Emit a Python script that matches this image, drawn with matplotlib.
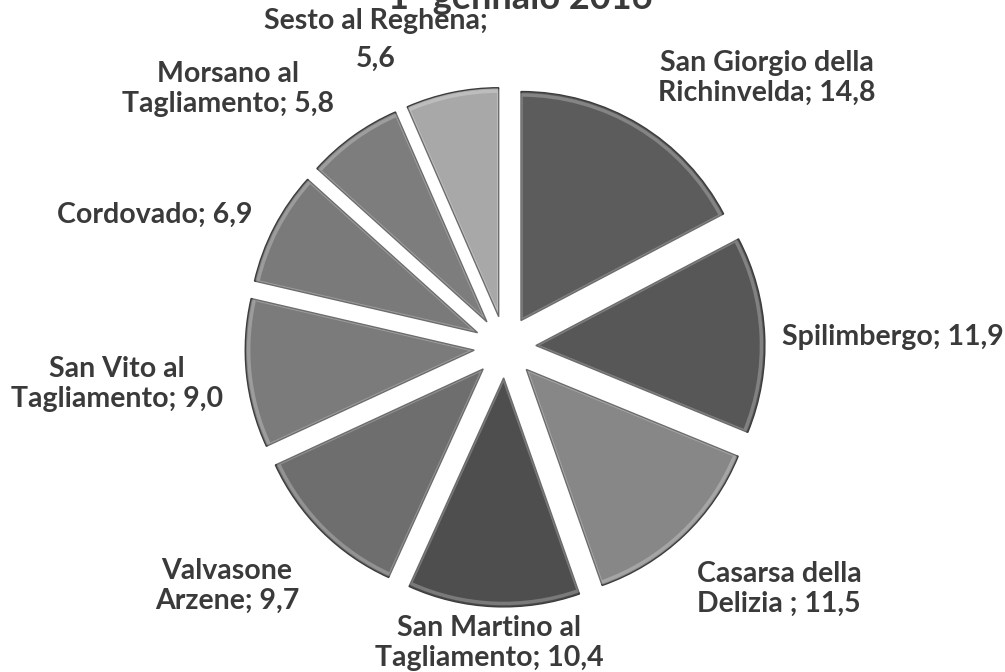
import matplotlib
matplotlib.use("Agg")
import matplotlib.pyplot as plt
from matplotlib.patches import Wedge

# data
comuni = ["San Giorgio della\nRichinvelda", "Spilimbergo", "Casarsa della\nDelizia ",
          "San Martino al\nTagliamento", "Valvasone\nArzene", "San Vito al\nTagliamento",
          "Cordovado", "Morsano al\nTagliamento", "Sesto al Reghena"]
valori = [14.8, 11.9, 11.5, 10.4, 9.7, 9.0, 6.9, 5.8, 5.6]
grigi = ["#5c5c5c", "#575757", "#878787", "#4e4e4e", "#6e6e6e",
         "#7b7b7b", "#7a7a7a", "#7d7d7d", "#a8a8a8"]
titolo = "1° gennaio 2016"

# label positions in pixels (center of text block)
pos_label = [(767, 78), (893, 337), (779, 589), (489, 643), (227, 586),
             (117, 384), (155, 215), (228, 89), (376, 40)]

W, H = 1005, 672
cx, cy, R = 505, 347, 229

fig = plt.figure(figsize=(W / 100, H / 100), dpi=100)
ax = fig.add_axes([0, 0, 1, 1])

wedges, _ = ax.pie(valori, startangle=90, counterclock=False, colors=grigi,
                   explode=[0.135] * len(valori), radius=1,
                   wedgeprops=dict(edgecolor="#3c3c3c", linewidth=1.0))
# soft bevel highlight inside each wedge
for w in wedges:
    w.set_zorder(2)
    hl = Wedge(w.center, w.r * 0.985, w.theta1, w.theta2,
               facecolor="none", edgecolor="white",
               linewidth=2.5, alpha=0.25, zorder=3)
    ax.add_patch(hl)

ax.set_xlim(-cx / R, (W - cx) / R)
ax.set_ylim(-(H - cy) / R, cy / R)
ax.set_aspect("equal")
ax.axis("off")

def to_data(px, py):
    return (px - cx) / R, (cy - py) / R

for i, (nome, v, (px, py)) in enumerate(zip(comuni, valori, pos_label)):
    num = f"{v:.1f}".replace(".", ",")
    if i == len(comuni) - 1:
        # the last label breaks after the semicolon, with a wider gap
        testo = f"{nome};\n{num}"
        ls = 1.55
    else:
        testo = f"{nome}; {num}"
        ls = 1.2
    x, y = to_data(px, py)
    ax.text(x, y, testo, ha="center", va="center", fontsize=20.5,
            fontweight="bold", family="Lato", color="#3a3a3a",
            linespacing=ls, multialignment="center")

tx, ty = to_data(520, 9)
ax.text(tx, ty, titolo, ha="center", va="baseline", fontsize=26,
        fontweight="bold", family="Lato", color="#3a3a3a")

fig.savefig("out.png", dpi=100, facecolor="white")
